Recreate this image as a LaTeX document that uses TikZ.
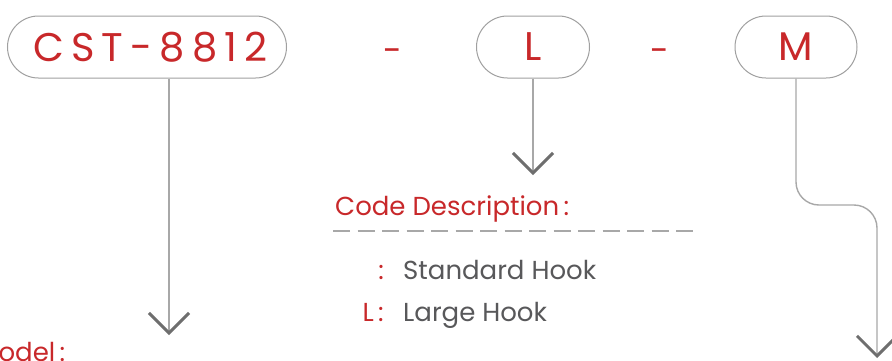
\documentclass[tikz,border=0pt]{standalone}
\usepackage{fontspec}
\setmainfont{Poppins}
\usetikzlibrary{arrows.meta}
\definecolor{codered}{HTML}{C8282A}
\definecolor{pillgray}{HTML}{A0A0A0}
\definecolor{linegray}{HTML}{A8A8A8}
\definecolor{chevgray}{HTML}{6E6E6E}
\definecolor{textgray}{HTML}{58585A}
\tikzset{
	pill/.style={draw=pillgray, line width=1pt, rounded corners=31pt, minimum height=62pt, inner sep=0pt, text=codered, font=\fontsize{40}{40}\selectfont},
	sep/.style={text=codered, font=\fontsize{34}{34}\selectfont, inner sep=0pt},
	link/.style={draw=linegray, line width=1.4pt, -{Straight Barb[length=20pt, width=40pt, line width=3pt, color=chevgray]}},
	title/.style={text=codered, font=\fontsize{26}{26}\selectfont, inner sep=0pt, anchor=base west},
	entry/.style={text=textgray, font=\fontsize{26}{26}\selectfont, inner sep=0pt, anchor=base west},
	key/.style={text=codered, font=\fontsize{26}{26}\selectfont, inner sep=0pt, anchor=base east}
}
\begin{document}
\begin{tikzpicture}[x=1pt, y=-1pt]
	\clip (0,0) rectangle (892,360);
	\fill[white] (0,0) rectangle (892,360);

	% Order code
	\node[pill, minimum width=279pt] (cst) at (147,47) {\addfontfeatures{LetterSpace=18}CST-8812\kern-7pt};
	\node[sep] (dashA) at (393,56) {-};
	\node[pill, minimum width=113pt] (lpill) at (533,47) {L};
	\node[sep] (dashB) at (660,56) {-};
	\node[pill, minimum width=122pt] (mpill) at (796,47) {M};

	% Arrow ends
	\coordinate (tipA) at (169,335);
	\coordinate (tipB) at (533,175);
	\coordinate (tipC) at (877,358);

	\draw[link] (tipA |- cst.south) -- (tipA);
	\draw[link] (lpill.south) -- (tipB);
	\draw[link, rounded corners=23pt] (mpill.south) |- (877,205) -- (tipC);

	% Hook codes
	\node[title] (codetitle) at (335,215) {Code Description\,:};
	\draw[linegray, line width=2.5pt, dash pattern=on 17pt off 7.5pt] (333,231) -- (697,231);
	\node[key] (keyS) at (384,279) {:};
	\node[entry] (hookS) at (403,279) {Standard Hook};
	\node[key] (keyL) at (384,321) {L\,:};
	\node[entry] (hookL) at (403,321) {Large Hook};

	% Model
	\node[title] (model) at (-24,361) {Model\,:};
\end{tikzpicture}
\end{document}
